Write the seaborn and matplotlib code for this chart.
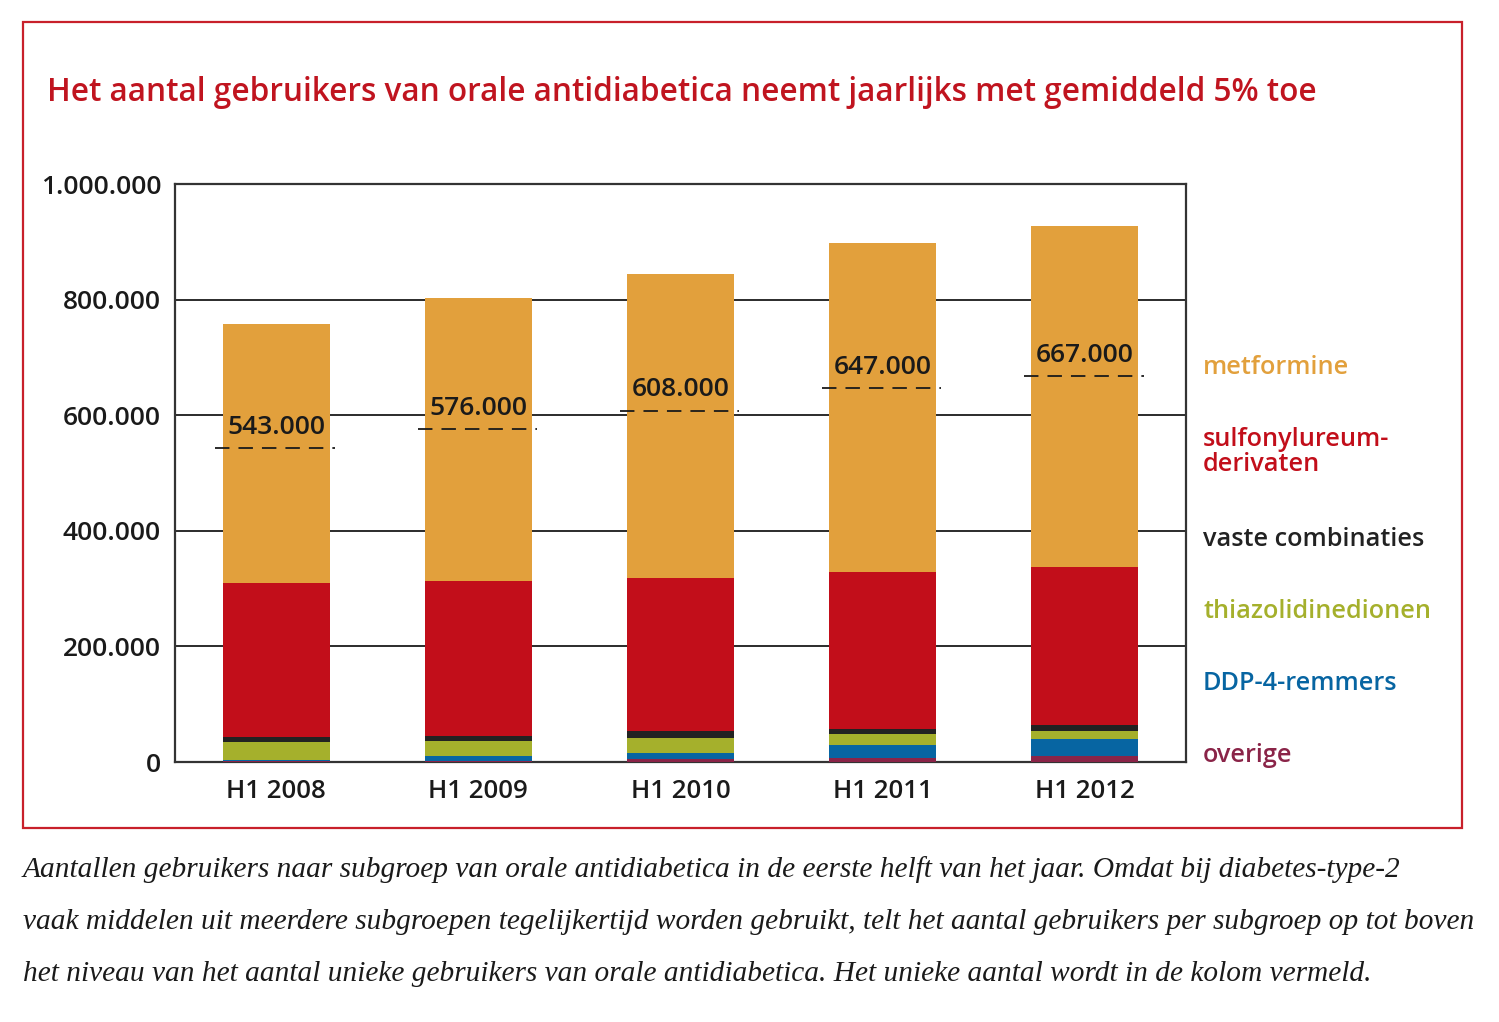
import matplotlib
matplotlib.use("Agg")
import matplotlib.pyplot as plt
import seaborn as sns
import pandas as pd
import numpy as np
from matplotlib.patches import Rectangle

periods = ["H1 2008", "H1 2009", "H1 2010", "H1 2011", "H1 2012"]
overige = [1500, 2000, 4600, 7500, 9900]
ddp4 = [2500, 7900, 11000, 21400, 29900]
thiazolidinedionen = [30600, 27000, 26400, 19000, 13300]
vaste_combinaties = [8700, 8100, 11600, 8700, 11400]
sulfonylureum = [266700, 268000, 264400, 272400, 272500]
metformine = [448000, 490000, 526000, 569000, 590000]
unieke = [543000, 576000, 608000, 647000, 667000]
unieke_labels = ["543.000", "576.000", "608.000", "647.000", "667.000"]
ytick_vals = [0, 200000, 400000, 600000, 800000, 1000000]
ytick_labels = ["0", "200.000", "400.000", "600.000", "800.000", "1.000.000"]

series_names = ["overige", "DDP-4-remmers", "thiazolidinedionen",
                "vaste combinaties", "sulfonylureum-\nderivaten", "metformine"]
series_vals = [overige, ddp4, thiazolidinedionen, vaste_combinaties, sulfonylureum, metformine]
colors = ["#8A2448", "#0765A2", "#A5B02C", "#222222", "#C20E1A", "#E2A03C"]

sns.set_theme(style="white")
plt.rcParams['font.family'] = ['Open Sans', 'DejaVu Sans']

fig = plt.figure(figsize=(14.99, 10.22), dpi=100)
ax = fig.add_axes([175/1499, 1-762/1022, 1011/1499, 578/1022])

cum = np.cumsum(np.array(series_vals), axis=0)
rows = []
for i, name in enumerate(series_names):
    for j, p in enumerate(periods):
        rows.append({"period": p, "series": name, "cum": cum[i, j]})
df = pd.DataFrame(rows)

for i in reversed(range(len(series_names))):
    sub = df[df["series"] == series_names[i]]
    sns.barplot(data=sub, x="period", y="cum", color=colors[i], width=0.53,
                saturation=1, errorbar=None, ax=ax, linewidth=0, zorder=3 + (5 - i) * 0.01)

ax.set_ylim(0, 1000000)
ax.set_xlim(-0.5, 4.5)
ax.set_yticks(ytick_vals)
ax.set_yticklabels(ytick_labels)
ax.set_xlabel("")
ax.set_ylabel("")
for y in ytick_vals[1:-1]:
    ax.axhline(y, color="#1a1a1a", lw=1.3, zorder=1)
for s in ax.spines.values():
    s.set_visible(True)
    s.set_color("#333333")
    s.set_linewidth(1.6)
ax.tick_params(axis="both", length=0, colors="#1a1a1a")
ax.tick_params(axis="y", pad=10, labelsize=19)
ax.tick_params(axis="x", pad=12, labelsize=18.5)
for lab in ax.get_xticklabels() + ax.get_yticklabels():
    lab.set_fontweight("semibold")

for j, v in enumerate(unieke):
    ax.hlines(v, j - 0.3, j + 0.29, colors="#1a1a1a", lw=1.3,
              linestyles=(0, (8, 5)), zorder=6)
    ax.annotate(unieke_labels[j], (j, v), xytext=(0, 6), textcoords="offset points",
                ha="center", va="bottom", fontsize=19, fontweight="semibold",
                color="#1a1a1a", zorder=7)

# legend as colored text
leg_y = [367, 452, 540, 611, 684, 756]
order = [5, 4, 3, 2, 1, 0]
for k, idx in enumerate(order):
    fig.text(1203/1499, 1 - leg_y[k]/1022, series_names[idx], color=colors[idx],
             fontsize=18.2, fontweight="semibold", ha="left", va="center", linespacing=1.0)

# title
fig.text(47/1499, 1 - 101/1022,
         "Het aantal gebruikers van orale antidiabetica neemt jaarlijks met gemiddeld 5% toe",
         color="#C0141F", fontsize=22.7, fontweight="semibold", ha="left", va="baseline")

# frame
fig.patches.append(Rectangle((23/1499, 1 - 828/1022), 1439/1499, 806/1022,
                             transform=fig.transFigure, fill=False,
                             edgecolor="#C8202B", lw=1.6))

caption = [
    "Aantallen gebruikers naar subgroep van orale antidiabetica in de eerste helft van het jaar. Omdat bij diabetes-type-2",
    "vaak middelen uit meerdere subgroepen tegelijkertijd worden gebruikt, telt het aantal gebruikers per subgroep op tot boven",
    "het niveau van het aantal unieke gebruikers van orale antidiabetica. Het unieke aantal wordt in de kolom vermeld.",
]
cap_y = [870, 922, 974]
for t, y in zip(caption, cap_y):
    fig.text(23/1499, 1 - y/1022, t, fontsize=21.2, style="italic",
             family=["Liberation Serif", "DejaVu Serif"], color="#1a1a1a",
             ha="left", va="center")

fig.savefig("out.png", dpi=100)
